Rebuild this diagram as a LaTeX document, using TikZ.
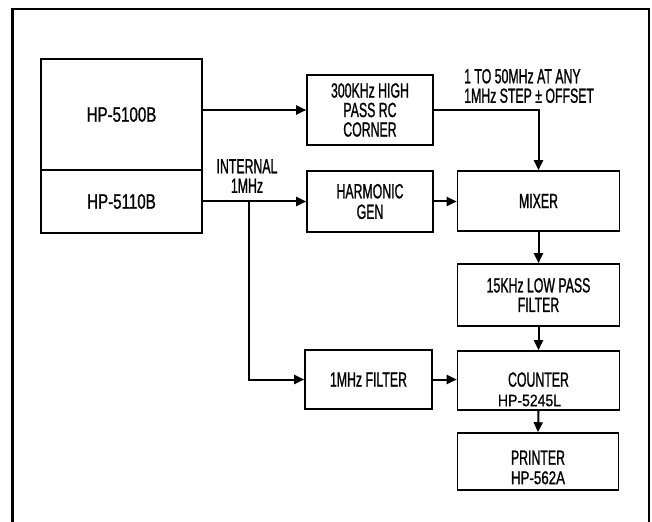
\documentclass[tikz,border=0pt]{standalone}
\usepackage{fontspec}
\setmainfont{Liberation Sans}[FakeStretch=0.6,FakeBold=1]
\newfontfamily\dgWideFam{Liberation Sans}[FakeStretch=0.72,FakeBold=1]
\newfontfamily\dgWiderFam{Liberation Sans}[FakeStretch=0.85,FakeBold=1]
\usetikzlibrary{arrows.meta}
\newcommand\dgLbl{\fontsize{20.5bp}{19.5bp}\selectfont}
\newcommand\dgBig{\dgWideFam\fontsize{21bp}{22bp}\selectfont}
\newcommand\dgMid{\dgWideFam\fontsize{18.5bp}{19bp}\selectfont}
\newcommand\dgSmall{\dgWiderFam\fontsize{16.5bp}{17bp}\selectfont}
\begin{document}
\begin{tikzpicture}[x=1bp,y=-1bp,
  box/.style={draw, line width=1.6bp, inner sep=0pt, align=center, font=\dgLbl},
  arr/.style={line width=2bp, -{Triangle[length=10bp,width=9bp]}},
  frame/.style={line width=2.6bp},
  lbl/.style={font=\dgLbl, inner sep=0pt}]
\useasboundingbox (0,0) rectangle (652,522);
\fill[white] (0,0) rectangle (652,522);
\draw[frame] (12.5,524) -- (12.5,9) -- (649,9) -- (649,524);

\node[box, minimum width=161bp, minimum height=111bp, font=\dgBig] (hpA) at (121.5,114.5) {HP-5100B};
\node[box, minimum width=161bp, minimum height=63bp, font=\dgBig] (hpB) at (121.5,201.5) {HP-5110B};
\node[box, minimum width=126bp, minimum height=70bp] (hpf) at (370,110) {300KHz HIGH\\PASS RC\\CORNER};
\node[box, minimum width=126bp, minimum height=61bp] (harm) at (370,201.5) {HARMONIC\\[1bp]GEN};
\node[box, minimum width=162bp, minimum height=60bp] (mix) at (538.5,201) {MIXER};
\node[box, minimum width=162bp, minimum height=62bp] (lpf) at (538.5,295) {15KHz LOW PASS\\FILTER};
\node[box, minimum width=127bp, minimum height=59bp] (filt) at (368.5,379.5) {1MHz FILTER};
\node[box, minimum width=162bp, minimum height=59bp] (cnt) at (538.5,380.5) {\rule{0pt}{32bp}COUNTER\\\hspace*{-18bp}{\dgSmall HP-5245L}};
\node[box, minimum width=161bp, minimum height=57bp] (prn) at (538,461.5) {\rule{0pt}{26bp}PRINTER\\{\dgMid HP-562A}};

\node[lbl, align=center] (int) at (247,176) {INTERNAL\\1MHz};
\node[lbl, align=left, anchor=west] (rng) at (464,86) {1 TO 50MHz AT ANY\\1MHz STEP ± OFFSET};

\coordinate (br) at (249,201.5);
\draw[arr] (hpA.east |- hpf.west) -- (hpf.west);
\draw[arr] (hpB.east) -- (harm.west);
\draw[arr] (br) |- (filt.west);
\draw[arr] (harm.east) -- (harm.east -| mix.west);
\draw[arr] (hpf.east) -| (mix.north);
\draw[arr] (mix.south) -- (lpf.north);
\draw[arr] (lpf.south) -- (cnt.north);
\draw[arr] (cnt.south) -- (prn.north);
\draw[arr] (filt.east) -- (filt.east -| cnt.west);
\end{tikzpicture}
\end{document}
